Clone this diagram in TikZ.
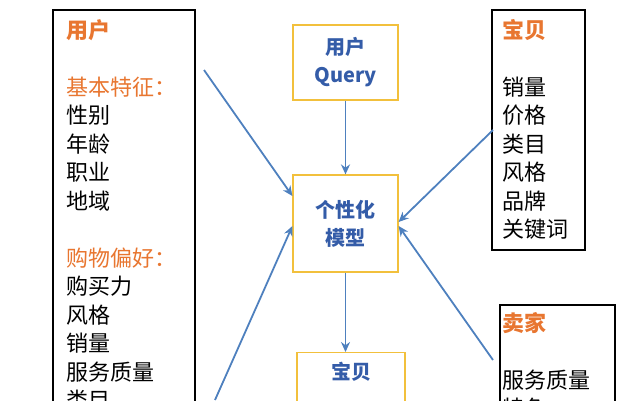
\documentclass[tikz,border=0pt]{standalone}
\usepackage{fontspec}
\setmainfont{Noto Sans CJK SC}
\usetikzlibrary{arrows.meta}
\definecolor{ttorange}{RGB}{232,118,48}
\definecolor{ttblue}{RGB}{52,92,168}
\definecolor{ttline}{RGB}{78,128,190}
\definecolor{ttgold}{RGB}{242,192,60}
\begin{document}
\begin{tikzpicture}
  [x=1pt, y=-1pt]
  \tikzset{side_box/.style = {draw=black, line width=1.2pt},
    mid_box/.style = {draw=ttgold, line width=1.2pt, inner sep=0pt, font=\fontsize{20}{28}\selectfont\bfseries, text=ttblue, align=center},
    side_text/.style = {anchor=north west, align=left, inner sep=0pt, font=\fontsize{22}{28.5}\selectfont},
    link/.style = {draw=ttline, line width=1.8pt, -{Stealth[length=10pt,width=9pt]}}}
  \useasboundingbox (0,0) rectangle (643,400);
  \clip (0,0) rectangle (643,400);

  \draw[side_box] (53,10) rectangle (195,430);
  \draw[side_box] (492,10) rectangle (585,250);
  \draw[side_box] (500,305) rectangle (615,430);

  \node[side_text] (user) at (66,19) {\textcolor{ttorange}{\bfseries 用户}\\ \\ \textcolor{ttorange}{基本特征：}\\性别\\年龄\\职业\\地域\\ \\ \textcolor{ttorange}{购物偏好：}\\购买力\\风格\\销量\\服务质量\\类目};
  \node[side_text] (item) at (502,19) {\textcolor{ttorange}{\bfseries 宝贝}\\ \\销量\\价格\\类目\\风格\\品牌\\关键词};
  \node[side_text] (seller) at (502,312) {\textcolor{ttorange}{\bfseries 卖家}\\ \\服务质量\\特色};

  \node[mid_box, minimum width=105pt, minimum height=75pt] (query) at (345.5,62.5) {用户\\Query};
  \node[mid_box, minimum width=105pt, minimum height=97pt] (model) at (345.5,223.5) {个性化\\模型};
  \node[mid_box, minimum width=108pt, minimum height=80pt, anchor=north] (result) at (351,352) {\raisebox{-12pt}{宝贝}\\ \\};

  \coordinate (ua) at (204,70);
  \coordinate (ub) at (215,400);
  \coordinate (ia) at (493,130);
  \coordinate (sa) at (493,360);

  \draw[link] (query) -- (model);
  \draw[link] (model.south) -- (model.south |- result.north);
  \draw[link] (ua) -- ([yshift=27.5pt]model.west);
  \draw[link] (ub) -- ([yshift=-2.5pt]model.west);
  \draw[link] (ia) -- ([yshift=1.5pt]model.east);
  \draw[link] (sa) -- ([yshift=-2.5pt]model.east);
\end{tikzpicture}
\end{document}
